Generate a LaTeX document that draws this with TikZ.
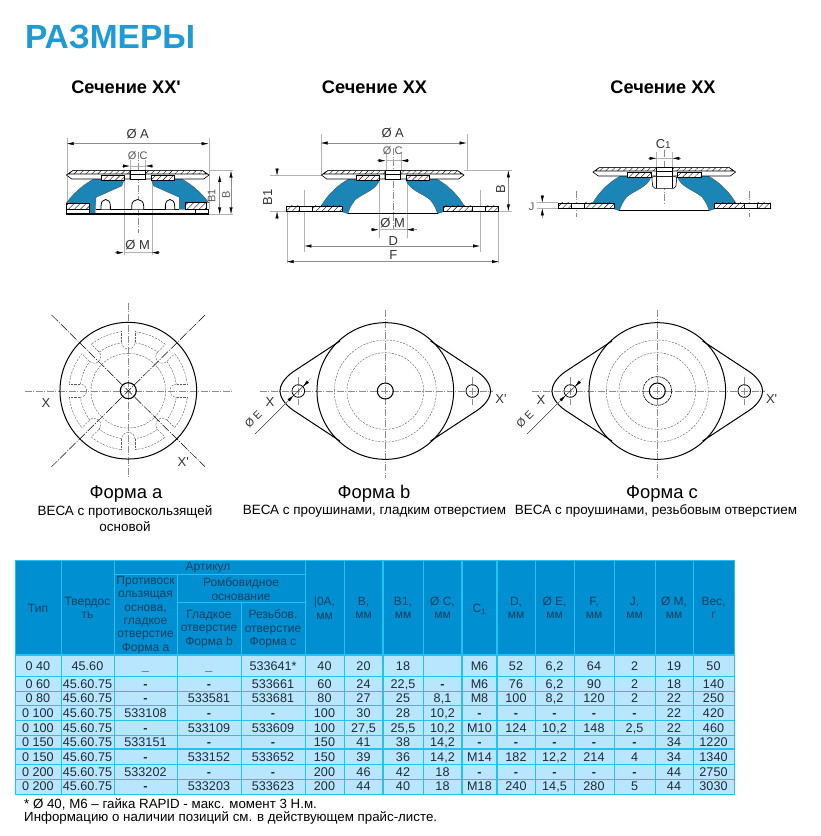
\documentclass[tikz,border=0pt]{standalone}
\usepackage{fontspec}
\setmainfont{Liberation Sans}[Ligatures=TeXOff]
\usepackage{tikz}
\usetikzlibrary{arrows.meta,patterns.meta}

\definecolor{titleblue}{HTML}{1E9AD6}
\definecolor{rubberblue}{HTML}{1B86B6}
\definecolor{headblue}{HTML}{0090D2}
\definecolor{rowblue}{HTML}{B9E6FF}
\definecolor{gridblue}{HTML}{22C3F0}
\definecolor{headtext}{HTML}{123F5E}
\definecolor{celltext}{HTML}{1C2C36}

\tikzset{
  secta/.style={shift={(137.7,110)},x=0.3333pt,y=-0.3333pt},
  sectb/.style={shift={(392.7,110)},x=0.3333pt,y=-0.3333pt},
  sectc/.style={shift={(664.3,107)},x=0.3333pt,y=-0.3333pt},
  plana/.style={shift={(128.3,390.7)},x=0.3333pt,y=-0.3333pt},
  planb/.style={shift={(385.3,391)},x=0.3333pt,y=-0.3333pt},
  planc/.style={shift={(657.3,391)},x=0.3333pt,y=-0.3333pt},
  rubber/.style={fill=rubberblue,draw=black!70,line width=0.3pt},
  plate/.style={draw=black,line width=0.6pt,fill=white},
  hatched/.style={draw=black,line width=0.6pt,preaction={fill=white},
    pattern={Lines[angle=45,distance=4.2pt,line width=0.4pt]}},
  extline/.style={draw=black!30,line width=0.35pt},
  axisline/.style={draw=black!45,line width=0.35pt,dash pattern=on 7pt off 1.5pt on 1pt off 1.5pt},
  dimboth/.style={draw=black!45,line width=0.4pt,
    arrows={Latex[black,length=7pt,width=3.2pt]-Latex[black,length=7pt,width=3.2pt]}},
  dimone/.style={draw=black!45,line width=0.4pt,
    arrows={-Latex[black,length=7pt,width=3.2pt]}},
  dimtext/.style={font=\fontsize{13}{14}\selectfont,text=black!80,inner sep=0pt},
  dimsmall/.style={dimtext,font=\fontsize{11}{12}\selectfont,text=black!65},
  outline/.style={draw=black,line width=1pt},
  hidden/.style={draw=black!65,line width=0.4pt,dash pattern=on 2.2pt off 1.2pt},
  secttitle/.style={font=\fontsize{18.2}{20}\selectfont\bfseries,inner sep=0pt},
  formname/.style={font=\fontsize{18.4}{20}\selectfont,inner sep=0pt},
  formtext/.style={font=\fontsize{13.45}{16}\selectfont,inner sep=0pt,align=center},
  gridline/.style={draw=gridblue,line width=0.9pt},
  gridheavy/.style={draw=gridblue,line width=1.5pt},
  headcell/.style={font=\fontsize{12}{13.3}\selectfont,text=headtext,inner sep=0pt,align=center},
  cell/.style={font=\fontsize{12.6}{14}\selectfont,text=celltext,inner sep=0pt,text height=9pt,text depth=0pt},
  foot/.style={font=\fontsize{13.3}{15}\selectfont,inner sep=0pt,anchor=west},
}

% upper plate with its hatched insert, same in all three sections
\newcommand{\topplate}{
  \foreach \sx in {1,-1}{
    \begin{scope}[xscale=\sx]
      \draw[plate] (23,182) -- (195,182) -- (214,195) -- (198,207) -- (23,207) -- cycle;
      \draw[hatched] (23,182) -- (195,182) -- (208,192) -- (23,192) -- cycle;
      \draw[hatched] (40,196) rectangle (110,210);
    \end{scope}
  }
  \draw[plate] (-23,182) rectangle (23,207);
  \draw[black,line width=0.6pt] (-23,193) -- (23,193);
}

% rubber and flanges of sections b and c
\newcommand{\lugsection}{
  \foreach \sx in {1,-1}{
    \begin{scope}[xscale=\sx]
      \draw[rubber] (216,290) .. controls (190,245) and (150,212) .. (110,197)
        -- (40,210) .. controls (48,240) and (90,250) .. (113,270)
        .. controls (125,285) and (130,298) .. (135,311) -- (150,306) -- (151,290) -- cycle;
      \draw[hatched] (151,288) rectangle (240,304);
      \draw[plate] (240,288) rectangle (279,304);
      \draw[hatched] (279,288) rectangle (318,304);
    \end{scope}
  }
  \draw[black,line width=1.1pt] (-135,311) -- (135,311);
  \topplate
}

% disc with two lugs, form b and form c
\newcommand{\lugplan}{
  \draw[hidden] (0,0) circle (115);
  \draw[hidden] (0,0) circle (153);
  \draw[axisline] (-376,0) -- (324,0);
  \draw[axisline] (0,-243) -- (0,262);
  \draw[axisline] (-261,-43) -- (-261,43);
  \draw[axisline] (261,-43) -- (261,43);
  \draw[outline] (0,0) circle (205);
  \foreach \sx in {1,-1}{
    \begin{scope}[xscale=\sx]
      \draw[outline] (136,-150) -- (276,-58) .. controls (305,-38) and (316,-15) .. (316,0)
        .. controls (316,15) and (305,38) .. (276,58) -- (136,150);
      \draw[black,line width=0.8pt] (261,0) circle (19);
    \end{scope}
  }
  \draw[outline] (0,0) circle (24);
  \draw[black,line width=0.35pt] (-391,129) -- (-233,-28);
  \draw[dimone] (-300,38) -- (-275,13);
  \draw[dimone] (-222,-39) -- (-247,-13);
}

\begin{document}
\begin{tikzpicture}[x=1pt,y=-1pt]
\useasboundingbox (0,0) rectangle (820,836);

\node[anchor=west,inner sep=0pt,text=titleblue,font=\fontsize{33.5}{36}\selectfont\bfseries] (title) at (25,37) {РАЗМЕРЫ};
\node[secttitle] (titlea) at (126,87) {Сечение XX'};
\node[secttitle] (titleb) at (374.5,87) {Сечение XX};
\node[secttitle] (titlec) at (663,87) {Сечение XX};

% section a
\begin{scope}[secta]
\foreach \ex in {-213,213}{\draw[extline] (\ex,85) -- (\ex,298);}
\foreach \ex in {-42,42}{\draw[extline] (\ex,180) -- (\ex,435);}
\foreach \ex in {-23,23}{\draw[extline] (\ex,150) -- (\ex,182);}
\draw[axisline] (0,125) -- (0,370);
\draw[extline] (213,182) -- (287,182);
\draw[extline] (213,313) -- (287,313);
\draw[rubber] (-213,278) .. controls (-190,245) and (-150,212) .. (-110,197)
  -- (-41,210) -- (-48,228) -- (-125,262) -- (-128,312) -- (-145,312) -- (-145,280) -- cycle;
\draw[rubber] (213,278) .. controls (190,245) and (150,212) .. (110,197)
  -- (41,210) -- (48,228) -- (125,262) -- (125,298) -- (142,298) -- (142,278) -- cycle;
\draw[hatched] (-213,280) rectangle (-145,298);
\draw[hatched] (142,278) rectangle (207,298);
\draw[plate] (-213,298) rectangle (-145,312);
\draw[plate] (173,298) rectangle (212,312);
\draw[black,line width=0.6pt] (-125,297) -- (125,297);
\draw[black,line width=1.1pt] (-213,312) -- (212,312);
\foreach \ax/\aw in {-96/14,0/18,97/14}{
  \draw[black,line width=0.8pt,fill=white] (\ax-\aw,298) -- (\ax-\aw,288)
    .. controls (\ax-\aw,262) and (\ax+\aw,262) .. (\ax+\aw,288) -- (\ax+\aw,298);
}
\topplate
\draw[dimboth] (-213,101) -- (213,101);
\node[dimtext] (labela) at (0,72) {Ø A};
\draw[dimone] (-48,168) -- (-23,168);
\draw[dimone] (47,168) -- (23,168);
\draw[extline] (-23,168) -- (23,168);
\node[dimsmall] (labelc) at (0,137) {Ø C};
\draw[dimboth] (246,195) -- (246,313);
\node[dimsmall,rotate=90] (labelbi) at (222,257) {B1};
\draw[dimboth] (280,182) -- (280,313);
\node[dimsmall,rotate=90] (labelb) at (265,255) {B};
\draw[dimone] (-67,428) -- (-42,428);
\draw[dimone] (67,428) -- (42,428);
\draw[extline] (-42,428) -- (42,428);
\node[dimtext] (labelm) at (0,405) {Ø M};
\end{scope}

% section b
\begin{scope}[sectb]
\draw[extline] (-216,72) -- (-216,195);
\draw[extline] (222,72) -- (222,181);
\foreach \ex in {-21,25}{\draw[extline] (\ex,125) -- (\ex,181);}
\foreach \ex in {-42,42}{\draw[extline] (\ex,210) -- (\ex,385);}
\foreach \ex in {-265,262}{\draw[extline] (\ex,240) -- (\ex,425);}
\foreach \ex in {-318,317}{\draw[extline] (\ex,304) -- (\ex,460);}
\draw[axisline] (0,115) -- (0,360);
\draw[extline] (-368,197) -- (-213,197);
\draw[extline] (-368,304) -- (-318,304);
\draw[extline] (215,181) -- (357,181);
\draw[extline] (317,304) -- (357,304);
\lugsection
\draw[dimboth] (-216,99) -- (222,99);
\node[dimtext] (labela) at (0,68) {Ø A};
\draw[dimone] (-46,152) -- (-21,152);
\draw[dimone] (50,152) -- (25,152);
\draw[extline] (-21,152) -- (25,152);
\node[dimsmall] (labelc) at (0,122) {Ø C};
\draw[dimone] (-347,175) -- (-347,197);
\draw[dimone] (-347,328) -- (-347,304);
\node[dimtext,rotate=90] (labelbi) at (-375,263) {B1};
\draw[dimboth] (347,181) -- (347,304);
\node[dimtext,rotate=90] (labelb) at (324,238) {B};
\draw[dimone] (-65,359) -- (-42,359);
\draw[dimone] (73,359) -- (42,359);
\draw[extline] (-42,359) -- (42,359);
\node[dimtext] (labelm) at (0,338) {Ø M};
\draw[dimboth] (-265,408) -- (262,408);
\node[dimtext] (labeld) at (2,392) {D};
\draw[dimboth] (-318,455) -- (319,455);
\node[dimtext] (labelf) at (2,436) {F};
\end{scope}

% section c
\begin{scope}[sectc]
\foreach \ex in {-23,24}{\draw[extline] (\ex,134) -- (\ex,182);}
\foreach \ex in {-263,255}{\draw[axisline] (\ex,251) -- (\ex,329);}
\draw[axisline] (0,129) -- (0,294);
\draw[extline] (-383,287) -- (-318,287);
\draw[extline] (-383,304) -- (-318,304);
\lugsection
\draw[black,line width=0.6pt,fill=white,rounded corners=2pt] (-38,209) -- (-34,244) -- (34,244) -- (38,209) -- cycle;
\draw[black,line width=0.6pt] (-23,209) -- (-23,244) (23,209) -- (23,244);
\draw[dimone] (-48,154) -- (-23,154);
\draw[dimone] (49,154) -- (24,154);
\draw[extline] (-23,154) -- (24,154);
\node[dimtext] (labelci) at (-3,111) {C{\fontsize{10}{12}\selectfont 1}};
\draw[dimone] (-366,264) -- (-366,287);
\draw[dimone] (-366,334) -- (-366,304);
\node[dimsmall] (labelj) at (-398,299) {J};
\end{scope}

% form a
\begin{scope}[plana]
\draw[axisline] (-310,0) -- (315,0);
\draw[axisline] (0,-264) -- (0,263);
\foreach \ang in {0,45,...,315}{
  \begin{scope}[rotate=\ang]
    \draw[hidden] (145,-20) -- (178,-20) (145,20) -- (178,20);
    \draw[hidden] (145,-20) arc (-90:-270:20);
  \end{scope}
  \draw[hidden] (\ang+7:178) arc (\ang+7:\ang+38:178);
  \draw[hidden] (\ang+8:145) arc (\ang+8:\ang+37:145);
}
\draw[hidden] (0,0) circle (112);
\draw[outline] (0,0) circle (205);
\draw[black,line width=0.5pt,dash pattern=on 9pt off 1.5pt on 1pt off 1.5pt] (-230,-227) -- (230,228);
\draw[black,line width=0.5pt,dash pattern=on 9pt off 1.5pt on 1pt off 1.5pt] (230,-227) -- (-230,228);
\draw[outline,line width=1.1pt] (0,0) circle (24);
\node[dimtext] (xa) at (-247,38) {X};
\node[dimtext] (xpa) at (165,213) {X'};
\end{scope}

% form b
\begin{scope}[planb]
\lugplan
\node[dimtext] (xb) at (-346,32) {X};
\node[dimtext] (xpb) at (347,25) {X'};
\node[dimsmall,rotate=45,text=black!80] (labeleb) at (-396,84) {Ø E};
\end{scope}

% form c
\begin{scope}[planc]
\lugplan
\draw[black,line width=0.6pt,dash pattern=on 3pt off 0.8pt] (0,0) circle (43);
\node[dimtext] (xc) at (-349,27) {X};
\node[dimtext] (xpc) at (343,25) {X'};
\node[dimsmall,rotate=45,text=black!80] (labelec) at (-397,84) {Ø E};
\end{scope}

\node[formname] (forma) at (126,494) {Форма a};
\node[formtext] (formatext) at (125,519) {ВЕСА с противоскользящей\\основой};
\node[formname] (formb) at (374,494) {Форма b};
\node[formtext] (formbtext) at (374.5,511) {ВЕСА с проушинами, гладким отверстием};
\node[formname] (formc) at (662,494) {Форма c};
\node[formtext] (formctext) at (656,511) {ВЕСА с проушинами, резьбовым отверстием};

% table
\fill[headblue] (15,560) rectangle (734,655);
\fill[rowblue] (15,655) rectangle (734,794);
\draw[gridline] (15,560) rectangle (734,794);
\foreach \lx in {61,114,305,344,423,535,574,614,655,693}{\draw[gridline] (\lx,560) -- (\lx,794);}
\foreach \lx in {383,462,497}{\draw[gridheavy] (\lx,560) -- (\lx,794);}
\draw[gridline] (177,574) -- (177,794);
\draw[gridline] (241,602) -- (241,794);
\draw[gridline] (114,574) -- (305,574);
\draw[gridline] (177,602) -- (305,602);
\draw[gridheavy] (15,655) -- (734,655);
\foreach \ly in {676,691,705,720,735,764,779}{\draw[gridline] (15,\ly) -- (734,\ly);}
\draw[gridheavy] (15,749) -- (734,749);

\node[headcell] (htype) at (38,608) {Тип};
\node[headcell] (hhard) at (87.5,608) {Твердос\\ть};
\node[headcell] (hart) at (208,568) {Артикул};
\node[headcell] (hpa) at (145.5,615) {Противоск\\ользящая\\основа,\\гладкое\\отверстие\\Форма а};
\node[headcell] (hpb) at (241,589) {Ромбовидное\\основание};
\node[headcell] (hpc) at (209,629) {Гладкое\\отверстие\\Форма b};
\node[headcell] (hpd) at (273,629) {Резьбов.\\отверстие\\Форма c};
\foreach \cn/\cx/\ctxt in {1/324.5/{|0A,\\мм},2/363.5/{В,\\мм},3/403/{В1,\\мм},4/442.5/{Ø C,\\мм},
    6/516/{D,\\мм},7/554.5/{Ø E,\\мм},8/594/{F,\\мм},9/634.5/{J,\\мм},10/674/{Ø M,\\мм},11/713.5/{Вес,\\г}}{
  \node[headcell] (hdim\cn) at (\cx,608) {\ctxt};
}
\node[headcell] (hdim5) at (479.5,609) {C\textsubscript{1}};

\foreach \rn/\ry/\vt/\vh/\vpa/\vpb/\vpc/\va/\vb/\vbo/\vc/\vco/\vd/\ve/\vf/\vj/\vm/\vw in {
  1/666/0 40/45.60/\textbf{\_}/\textbf{\_}/533641*/40/20/18//M6/52/{6,2}/64/2/19/50,
  2/684/0 60/45.60.75/\textbf{-}/\textbf{-}/533661/60/24/{22,5}/\textbf{-}/M6/76/{6,2}/90/2/18/140,
  3/698/0 80/45.60.75/\textbf{-}/533581/533681/80/27/25/{8,1}/M8/100/{8,2}/120/2/22/250,
  4/713/0 100/45.60.75/533108/\textbf{-}/\textbf{-}/100/30/28/{10,2}/\textbf{-}/\textbf{-}/\textbf{-}/\textbf{-}/\textbf{-}/22/420,
  5/728/0 100/45.60.75/\textbf{-}/533109/533609/100/{27,5}/{25,5}/{10,2}/M10/124/{10,2}/148/{2,5}/22/460,
  6/742/0 150/45.60.75/533151/\textbf{-}/\textbf{-}/150/41/38/{14,2}/\textbf{-}/\textbf{-}/\textbf{-}/\textbf{-}/\textbf{-}/34/1220,
  7/757/0 150/45.60.75/\textbf{-}/533152/533652/150/39/36/{14,2}/M14/182/{12,2}/214/4/34/1340,
  8/772/0 200/45.60.75/533202/\textbf{-}/\textbf{-}/200/46/42/18/\textbf{-}/\textbf{-}/\textbf{-}/\textbf{-}/\textbf{-}/44/2750,
  9/786/0 200/45.60.75/\textbf{-}/533203/533623/200/44/40/18/M18/240/{14,5}/280/5/44/3030}{
  \foreach \cn/\cx/\cval in {1/38/\vt,2/87.5/\vh,3/145.5/\vpa,4/209/\vpb,5/273/\vpc,6/324.5/\va,7/363.5/\vb,8/403/\vbo,
      9/442.5/\vc,10/479.5/\vco,11/516/\vd,12/554.5/\ve,13/594/\vf,14/634.5/\vj,15/674/\vm,16/713.5/\vw}{
    \node[cell] (cell\rn-\cn) at (\cx,\ry) {\cval};
  }
}

\node[foot] (foota) at (24,804) {* Ø 40, M6 – гайка RAPID - макс. момент 3 Н.м.};
\node[foot] (footb) at (24,818) {Информацию о наличии позиций см. в действующем прайс-листе.};

\end{tikzpicture}
\end{document}
